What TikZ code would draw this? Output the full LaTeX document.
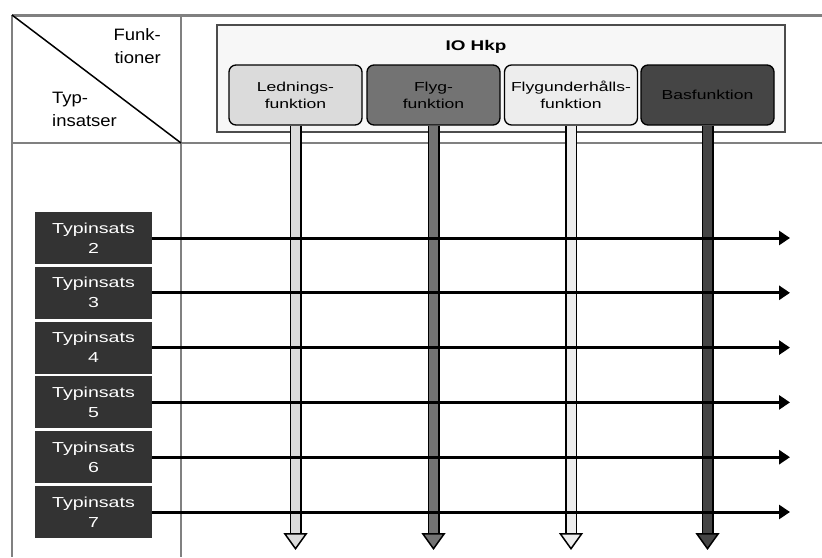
\documentclass[tikz,border=0pt]{standalone}
\usepackage{fontspec}
\setmainfont{Liberation Sans}[FakeStretch=1.35]
\newfontfamily\headfont{Liberation Sans}[FakeStretch=1.12]
\usetikzlibrary{arrows.meta,positioning}

\definecolor{ledc}{gray}{0.86}
\definecolor{flygc}{gray}{0.45}
\definecolor{underc}{gray}{0.93}
\definecolor{basc}{gray}{0.27}
\definecolor{typc}{gray}{0.2}
\definecolor{rulec}{gray}{0.5}

\tikzset{
rule/.style={draw=rulec, line width=2pt},
headtext/.style={inner sep=0pt, font=\headfont\fontsize{16.5}{23}\selectfont},
iobox/.style={draw=black!70, fill=black!3, line width=1.5pt,
    minimum width=568pt, minimum height=107pt},
funkbox/.style={draw, rounded corners=7pt, line width=1.3pt,
    minimum width=133pt, minimum height=60pt, align=center, inner sep=1pt,
    font=\fontsize{13}{17}\selectfont},
typbox/.style={fill=typc, text=white, minimum width=117pt,
    minimum height=52pt, align=center, inner sep=1pt,
    font=\fontsize{14.5}{20}\selectfont},
flow/.style={line width=3pt, -{Triangle[length=11pt,width=14pt]}},
down/.style={double=#1, double distance=9pt, line width=1.5pt,
    -{Triangle[length=17pt,width=24pt,fill=#1]}}
}

\begin{document}
\begin{tikzpicture}[x=1pt, y=-1pt]
\useasboundingbox (0,0) rectangle (822,557);

% table rules
\draw[rule, line width=3pt] (12,15) coordinate (tl) -- (822,15);
\draw[rule] (12,143) -- (822,143);
\draw[rule] (tl) -- (12,557);
\draw[rule] (181,15) coordinate (tm) -- (181,557);
\draw[line width=1.5pt] (tl) -- (181,143);

\node[headtext, anchor=north east, align=right] (funkh) at (161,28) {Funk-\\tioner};
\node[headtext, anchor=north west, align=left] (typh) at (52,92) {Typ-\\insatser};

% IO Hkp with the functions
\node[iobox] (io) at (501,78.5) {};
\node[font=\fontsize{14}{16}\selectfont\bfseries] (ioname) at (476,47) {IO Hkp};

\node[funkbox, fill=ledc] (led) at (295.5,95) {Lednings-\\funktion};
\node[funkbox, fill=flygc] (flyg) at (433.5,95) {Flyg-\\funktion};
\node[funkbox, fill=underc] (under) at (571,95) {Flygunderhålls-\\funktion};
\node[funkbox, fill=basc] (bas) at (707.5,95) {Basfunktion};

\coordinate (foot) at (0,550);
\foreach \b/\c in {led/ledc, flyg/flygc, under/underc, bas/basc}
  \draw[down=\c] (\b.south) -- (\b.south |- foot);

% Typinsatser
\foreach \n [count=\i from 0] in {2,...,7} {
  \node[typbox] (typ\n) at (93.5,238+54.8*\i) {Typinsats\\\n};
  \coordinate (end\n) at (790,238+54.8*\i);
  \draw[flow] (typ\n.east) -- (end\n);
}
\end{tikzpicture}
\end{document}
